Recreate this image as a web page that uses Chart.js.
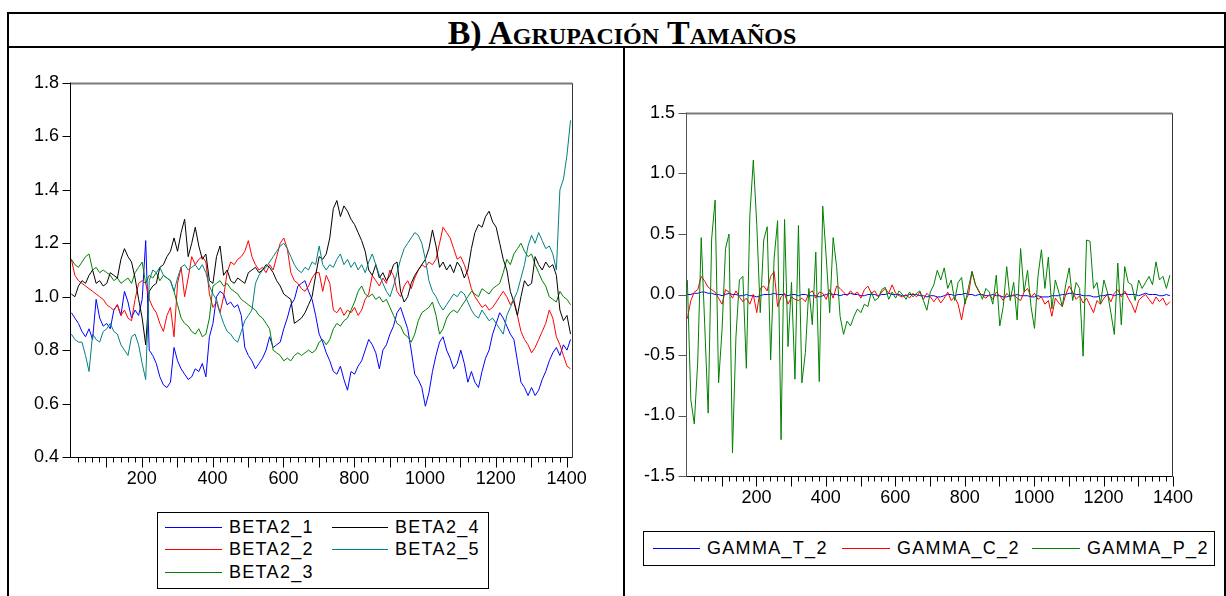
<!DOCTYPE html>
<html lang="es">
<head>
<meta charset="UTF-8">
<title>B) Agrupación Tamaños</title>
<script src="https://cdn.jsdelivr.net/npm/chart.js"></script>
<style>
    body { margin: 0; background: #fff; }
    #page { position: relative; width: 1226px; height: 596px; overflow: hidden; background: #fff; }
    .rule { position: absolute; background: #000; }
    #titulo {
        position: absolute; left: 380px; top: 14px; width: 484px; height: 32px;
        text-align: center; font-family: 'Liberation Serif', 'Times New Roman', serif;
        font-weight: bold; font-variant: small-caps; font-size: 34px; line-height: 37px; color: #000;
    }
    canvas, svg { position: absolute; }
    .leyenda { position: absolute; border: 1px solid #000; box-sizing: border-box; }
    .item { position: absolute; font-family: 'Liberation Sans', Arial, sans-serif; font-size: 18px; letter-spacing: 1.3px; color: #000; white-space: nowrap; line-height: 20px; }
</style>
</head>
<body>
<div id="page">
    <div class="rule" style="left:7px; top:12px; width:1219px; height:2px;"></div>
    <div class="rule" style="left:7px; top:12px; width:2px; height:584px;"></div>
    <div class="rule" style="left:1224px; top:12px; width:2px; height:584px;"></div>
    <div class="rule" style="left:7px; top:46px; width:1219px; height:2px;"></div>
    <div class="rule" style="left:623px; top:46px; width:2px; height:550px;"></div>
    <div id="titulo">B) Agrupación Tamaños</div>

    <canvas id="izq" width="600" height="450" style="left:10px; top:60px;"></canvas>
    <canvas id="der" width="598" height="460" style="left:626px; top:60px;"></canvas>

    <div class="leyenda" id="leyIzq" style="left:157px; top:512px; width:332px; height:77px;"></div>
    <div class="leyenda" id="leyDer" style="left:643px; top:531px; width:572px; height:35px;"></div>
</div>
<script>
    // ---- panel izquierdo: BETA2_x, una lectura cada 10 observaciones (obs 1, 11, ..., 1411)
    var betaStep = 10;
    var beta2_1 = [
        0.94, 0.92, 0.90, 0.87, 0.85, 0.88, 0.84, 0.99, 0.92, 0.89,
        0.90, 0.88, 0.95, 0.97, 0.93, 1.02, 0.98, 0.92, 0.95, 0.93,
        0.99, 1.21, 0.80, 0.78, 0.75, 0.70, 0.67, 0.66, 0.68, 0.81,
        0.76, 0.73, 0.71, 0.69, 0.70, 0.73, 0.72, 0.75, 0.70, 0.85,
        0.90, 1.00, 1.02, 1.01, 0.97, 0.98, 0.96, 0.97, 0.93, 0.81,
        0.78, 0.76, 0.73, 0.75, 0.77, 0.80, 0.85, 0.81, 0.82, 0.83,
        0.88, 0.92, 0.97, 0.99, 1.04, 1.05, 1.06, 1.02, 0.99, 0.93,
        0.86, 0.83, 0.79, 0.76, 0.72, 0.71, 0.74, 0.69, 0.65, 0.72,
        0.71, 0.74, 0.76, 0.80, 0.84, 0.82, 0.79, 0.73, 0.80, 0.82,
        0.86, 0.89, 0.94, 0.96, 0.92, 0.88, 0.80, 0.71, 0.69, 0.66,
        0.59, 0.64, 0.72, 0.78, 0.83, 0.85, 0.80, 0.77, 0.73, 0.75,
        0.80, 0.75, 0.68, 0.72, 0.68, 0.66, 0.72, 0.77, 0.80, 0.86,
        0.90, 0.94, 0.92, 0.89, 0.86, 0.84, 0.76, 0.68, 0.66, 0.63,
        0.66, 0.63, 0.65, 0.69, 0.72, 0.76, 0.79, 0.81, 0.78, 0.82,
        0.80, 0.84
    ];
    var beta2_2 = [
        1.14, 1.08, 1.06, 1.05, 1.04, 1.03, 1.02, 1.01, 1.00, 0.99,
        0.97, 0.96, 0.95, 0.97, 0.93, 0.95, 0.92, 0.91, 0.99, 1.05,
        1.06, 1.05, 0.99, 0.96, 0.94, 0.90, 0.87, 0.93, 0.96, 0.85,
        1.05, 1.11, 1.00, 1.07, 1.15, 1.12, 1.14, 1.15, 1.13, 1.01,
        0.96, 0.98, 0.94, 1.00, 1.09, 1.13, 1.12, 1.14, 1.15, 1.17,
        1.21, 1.15, 1.12, 1.10, 1.11, 1.09, 1.12, 1.10, 1.15, 1.20,
        1.22, 1.18, 1.09, 1.06, 1.05, 1.03, 1.02, 1.04, 1.07, 1.09,
        1.09, 1.02, 1.08, 1.05, 0.95, 0.94, 0.96, 0.93, 0.95, 0.94,
        0.96, 0.93, 0.95, 0.99, 1.01, 1.08, 1.06, 1.04, 1.07, 1.05,
        1.10, 1.08, 1.02, 1.00, 1.04, 1.06, 1.03, 1.07, 1.10, 1.12,
        1.11, 1.13, 1.12, 1.14, 1.20, 1.26, 1.24, 1.22, 1.18, 1.14,
        1.15, 1.12, 1.08, 1.03, 1.00, 0.98, 0.96, 0.97, 0.95, 0.96,
        0.98, 1.00, 1.02, 1.00, 0.97, 0.99, 0.93, 0.87, 0.84, 0.82,
        0.79, 0.81, 0.84, 0.87, 0.90, 0.95, 0.92, 0.85, 0.82, 0.78,
        0.74, 0.73
    ];
    var beta2_3 = [
        1.14, 1.12, 1.11, 1.13, 1.15, 1.16, 1.10, 1.11, 1.09, 1.10,
        1.09, 1.08, 1.06, 1.07, 1.05, 1.06, 1.07, 1.05, 1.09, 1.11,
        1.13, 1.05, 1.08, 1.07, 1.09, 1.06, 1.08, 1.07, 1.06, 1.02,
        0.97, 0.92, 0.90, 0.89, 0.87, 0.86, 0.88, 0.85, 0.86, 0.92,
        1.04, 1.05, 1.06, 1.04, 1.05, 1.03, 1.02, 1.01, 0.99, 0.98,
        0.97, 0.96, 0.95, 0.93, 0.92, 0.90, 0.88, 0.80, 0.79, 0.78,
        0.76, 0.77, 0.76, 0.78, 0.79, 0.78, 0.79, 0.80, 0.79, 0.80,
        0.83, 0.84, 0.82, 0.84, 0.88, 0.90, 0.89, 0.91, 0.92, 0.95,
        0.98, 1.02, 1.04, 1.01, 1.00, 1.01, 0.99, 1.00, 0.98, 0.99,
        0.96, 0.93, 0.90, 0.89, 0.86, 0.85, 0.83, 0.86, 0.91, 0.94,
        0.95, 0.96, 0.98, 0.93, 0.86, 0.88, 0.92, 0.94, 0.95, 0.94,
        0.96, 0.98, 1.00, 1.02, 1.01, 1.00, 1.03, 1.02, 1.01, 1.03,
        1.04, 1.05, 1.09, 1.14, 1.12, 1.16, 1.18, 1.20, 1.17, 1.15,
        1.16, 1.12, 1.09, 1.06, 1.04, 1.00, 0.99, 0.98, 1.02, 1.00,
        0.99, 0.97
    ];
    var beta2_4 = [
        1.01, 1.00, 1.04, 1.06, 1.05, 1.08, 1.10, 1.05, 1.06, 1.04,
        1.05, 1.09, 1.08, 1.07, 1.14, 1.18, 1.15, 1.13, 1.07, 0.99,
        0.92, 0.82, 1.02, 1.04, 1.05, 1.11, 1.12, 1.15, 1.17, 1.22,
        1.17, 1.24, 1.29, 1.15, 1.20, 1.26, 1.19, 1.14, 1.16, 1.06,
        1.05, 1.15, 1.19, 1.08, 1.10, 1.06, 1.05, 1.07, 1.06, 1.05,
        1.09, 1.10, 1.11, 1.09, 1.10, 1.12, 1.11, 1.09, 1.06, 1.04,
        1.01, 1.00, 0.99, 0.90, 0.91, 0.92, 0.94, 0.97, 1.00, 1.08,
        1.15, 1.14, 1.16, 1.22, 1.33, 1.36, 1.30, 1.34, 1.32, 1.29,
        1.27, 1.24, 1.21, 1.17, 1.10, 1.08, 1.12, 1.07, 1.09, 1.06,
        1.08, 1.12, 1.13, 1.02, 0.98, 1.00, 1.05, 1.08, 1.10, 1.12,
        1.14, 1.18, 1.25, 1.19, 1.11, 1.13, 1.10, 1.12, 1.09, 1.13,
        1.11, 1.07, 1.10, 1.18, 1.24, 1.27, 1.26, 1.30, 1.32, 1.28,
        1.26, 1.20, 1.14, 1.10, 1.02, 0.98, 0.93, 1.00, 1.06, 1.04,
        1.05, 1.15, 1.12, 1.10, 1.13, 1.11, 1.12, 1.08, 0.95, 0.91,
        0.93, 0.86
    ];
    var beta2_5 = [
        0.86, 0.84, 0.83, 0.83, 0.78, 0.72, 0.86, 0.84, 0.83, 0.87,
        0.88, 0.90, 0.87, 0.86, 0.82, 0.80, 0.78, 0.85, 0.86, 0.82,
        0.75, 0.69, 1.06, 1.10, 1.09, 1.11, 1.08, 1.07, 1.06, 1.02,
        1.07, 1.11, 1.12, 1.10, 1.11, 1.12, 1.10, 1.12, 1.09, 1.04,
        1.01, 0.99, 0.94, 0.90, 0.87, 0.86, 0.84, 0.83, 0.87, 0.91,
        0.93, 0.95, 1.05, 1.08, 1.10, 1.11, 1.13, 1.15, 1.17, 1.19,
        1.20, 1.18, 1.15, 1.12, 1.10, 1.09, 1.11, 1.10, 1.13, 1.12,
        1.19, 1.12, 1.10, 1.12, 1.11, 1.14, 1.16, 1.12, 1.14, 1.11,
        1.13, 1.10, 1.12, 1.09, 1.13, 1.16, 1.12, 1.08, 1.05, 1.02,
        1.00, 1.04, 1.09, 1.14, 1.18, 1.20, 1.22, 1.24, 1.23, 1.20,
        1.14, 1.06, 1.02, 1.00, 0.97, 0.95, 0.97, 0.99, 1.01, 1.00,
        1.02, 1.01, 0.98, 0.95, 0.93, 0.92, 0.95, 0.93, 0.91, 0.92,
        0.90, 0.88, 0.86, 0.93, 0.96, 0.99, 1.02, 1.07, 1.12, 1.19,
        1.23, 1.20, 1.24, 1.21, 1.18, 1.19, 1.16, 1.10, 1.40, 1.44,
        1.53, 1.66
    ];
    var betaNames = ['BETA2_1', 'BETA2_2', 'BETA2_3', 'BETA2_4', 'BETA2_5'];
    var betaColors = ['#0000ff', '#ff0000', '#008000', '#000000', '#008080'];
    var betaTicksY = [0.4, 0.6, 0.8, 1.0, 1.2, 1.4, 1.6, 1.8];
    var betaTicksX = [200, 400, 600, 800, 1000, 1200, 1400];

    // ---- panel derecho: GAMMA_x_2, una lectura cada 10 observaciones (obs 1, 11, ..., 1391)
    var gammaStep = 10;
    var gamma_t_2 = [
         0.00,  0.00,  0.01,  0.01,  0.02,  0.02,  0.01,  0.01,  0.00,  0.00,
        -0.01,  0.00,  0.01,  0.00,  0.00, -0.01, -0.01,  0.00, -0.01, -0.01,
        -0.02, -0.01,  0.00,  0.00,  0.00,  0.01,  0.00,  0.00,  0.00, -0.01,
         0.00,  0.00, -0.01,  0.00,  0.00, -0.01, -0.01, -0.01, -0.02, -0.01,
         0.00,  0.01,  0.00,  0.00, -0.01,  0.00,  0.00,  0.01,  0.00,  0.00,
        -0.01, -0.01,  0.00,  0.00,  0.00, -0.01,  0.00,  0.00,  0.01,  0.00,
         0.00,  0.00, -0.01, -0.01,  0.00,  0.00,  0.00, -0.01, -0.01, -0.02,
        -0.01, -0.01, -0.02, -0.02, -0.01,  0.00,  0.00, -0.01,  0.00,  0.00,
         0.01,  0.00,  0.00, -0.01,  0.00,  0.00, -0.01, -0.01,  0.00, -0.01,
        -0.01, -0.02, -0.02, -0.01, -0.01,  0.00, -0.01, -0.01, -0.01, -0.02,
        -0.02, -0.01, -0.02, -0.02, -0.02, -0.01, -0.01, -0.01,  0.00,  0.00,
         0.01,  0.01,  0.00,  0.00, -0.01, -0.01, -0.01, -0.02, -0.02, -0.01,
        -0.01,  0.00,  0.00, -0.01,  0.00,  0.00,  0.01,  0.00,  0.00,  0.00,
        -0.01,  0.00,  0.01,  0.00,  0.00,  0.00, -0.01, -0.01,  0.00, -0.01
    ];
    var gamma_c_2 = [
        -0.20, -0.05,  0.02,  0.04,  0.15,  0.11,  0.06,  0.04,  0.02, -0.03,
        -0.08,  0.04,  0.02, -0.03,  0.03, -0.02, -0.06, -0.03, -0.08,  0.00,
        -0.15,  0.05,  0.07,  0.03,  0.15,  0.19, -0.10, -0.02,  0.01, -0.08,
        -0.02, -0.04, -0.05, -0.03, -0.06,  0.01,  0.03, -0.03,  0.02,  0.01,
        -0.04,  0.04, -0.03,  0.07,  0.05,  0.02, -0.01,  0.03,  0.00,  0.02,
        -0.03,  0.04,  0.07,  0.01,  0.03, -0.02,  0.02,  0.05,  0.01,  0.08,
         0.01, -0.01, -0.02,  0.00, -0.03,  0.01, -0.02,  0.02, -0.04,  0.01,
        -0.02, -0.06, -0.02, -0.07, -0.03,  0.02, -0.05, -0.02, -0.08, -0.21,
        -0.05,  0.00,  0.19,  0.08,  0.02, -0.01, -0.03,  0.00, -0.04,  0.02,
        -0.01, -0.05,  0.01, -0.02,  0.00, -0.03, -0.05,  0.02,  0.05, -0.02,
         0.01, -0.04, -0.02, -0.08, -0.05, -0.18, -0.03, -0.07, -0.10,  0.00,
         0.07,  0.02, -0.04, -0.01, -0.07, -0.03, -0.09, -0.15, -0.05, -0.08,
        -0.03,  0.00, -0.06,  0.01,  0.04, -0.02,  0.03, -0.03, -0.08, -0.15,
        -0.05, -0.02,  0.00, -0.04, -0.08, -0.02, -0.06, -0.03, -0.09, -0.06
    ];
    var gamma_p_2 = [
         0.12, -0.87, -1.07, -0.55,  0.47, -0.25, -0.98,  0.46,  0.78, -0.73,
        -0.29,  0.38,  0.50, -1.31, -0.35,  0.12,  0.15, -0.61,  0.65,  1.11,
         0.58, -0.15,  0.45,  0.56, -0.54,  0.30,  0.61, -1.20,  0.62, -0.43,
         0.10, -0.70,  0.57, -0.73, -0.48,  0.05, -0.25,  0.35, -0.72,  0.73,
         0.31, -0.15,  0.47,  0.23, -0.18, -0.33, -0.22, -0.26, -0.18, -0.12,
        -0.15, -0.08, -0.10,  0.02, -0.05, -0.03,  0.04,  0.06, -0.04,  0.02,
        -0.03,  0.03,  0.00, -0.04,  0.02, -0.02,  0.01,  0.03, -0.05, -0.13,
         0.02,  0.08,  0.20,  0.12,  0.22,  0.05,  0.12, -0.05,  0.10,  0.14,
        -0.08,  0.06,  0.19,  0.08,  0.03, -0.04,  0.05,  0.02, -0.08,  0.16,
        -0.26, -0.10,  0.23, -0.05,  0.10, -0.21,  0.38,  0.02,  0.20, -0.10,
        -0.28,  0.15,  0.37,  0.05,  0.31, -0.12,  0.12,  0.02, -0.10,  0.08,
         0.22, -0.05,  0.10,  0.05, -0.51,  0.45,  0.44,  0.05,  0.10, -0.08,
         0.12,  0.02, -0.15, -0.33,  0.26, -0.25,  0.23,  0.10,  0.08, -0.05,
         0.12,  0.05,  0.10,  0.15,  0.08,  0.27,  0.12,  0.15,  0.05,  0.16
    ];
    var gammaNames = ['GAMMA_T_2', 'GAMMA_C_2', 'GAMMA_P_2'];
    var gammaColors = ['#0000ff', '#ff0000', '#008000'];
    var gammaTicksY = [-1.5, -1.0, -0.5, 0.0, 0.5, 1.0, 1.5];
    var gammaTicksX = [200, 400, 600, 800, 1000, 1200, 1400];

    Chart.defaults.font.family = "'Liberation Sans', Arial, sans-serif";
    Chart.defaults.color = '#000';

    // marco del area de grafico y marcas de los ejes, estilo EViews
    var marcoEViews = {
        id: 'marcoEViews',
        afterDatasetsDraw: function (chart, args, opts) {
            var ctx = chart.ctx, a = chart.chartArea, x = chart.scales.x, y = chart.scales.y;
            var L = Math.round(a.left) - 0.5, R = Math.round(a.right) - 0.5;
            var T = Math.round(a.top) + 0.5, B = Math.round(a.bottom) + 0.5;
            ctx.save();
            function seg(x1, y1, x2, y2, color, w) {
                ctx.strokeStyle = color;
                ctx.lineWidth = w || 1;
                ctx.beginPath(); ctx.moveTo(x1, y1); ctx.lineTo(x2, y2); ctx.stroke();
            }
            seg(L, T, R, T, '#7a7a7a', 2);
            seg(R, T, R, B, '#333', 1);
            seg(L, T - 1, L, B, opts.leftColor || '#000', 1);
            seg(L, B, R, B, '#000', 1);
            // marcas del eje x: cada 20 cortas, cada 100 largas
            for (var v = 20; v <= x.max; v += 20) {
                var px = Math.round(x.getPixelForValue(v)) + 0.5;
                seg(px, B, px, B + (v % 100 === 0 ? 10 : 5), '#000', 1);
            }
            // marcas del eje y
            y.ticks.forEach(function (t) {
                var py = Math.round(y.getPixelForValue(t.value)) + 0.5;
                seg(L - 8, py, L, py, opts.leftColor || '#000', 1);
            });
            ctx.restore();
        }
    };

    function serie(obs0, step, valores) {
        return valores.map(function (v, i) { return { x: obs0 + i * step, y: v }; });
    }

    function opciones(cfg) {
        return {
            responsive: false,
            animation: false,
            devicePixelRatio: 1,
            layout: { padding: cfg.padding },
            plugins: { legend: { display: false }, tooltip: { enabled: false }, marcoEViews: { leftColor: cfg.leftColor } },
            elements: { point: { radius: 0 }, line: { borderWidth: 1, tension: 0 } },
            scales: {
                x: {
                    type: 'linear', min: 0, max: cfg.xMax,
                    afterFit: function (s) { s.height = cfg.xHeight; },
                    afterBuildTicks: function (s) { s.ticks = cfg.xTicks.map(function (v) { return { value: v }; }); },
                    grid: { display: false, drawTicks: false },
                    border: { display: false },
                    ticks: {
                        padding: 11, font: { size: 18 }, maxRotation: 0, autoSkip: false,
                        callback: function (v) { return String(v); }
                    }
                },
                y: {
                    type: 'linear', min: cfg.yTicks[0], max: cfg.yTicks[cfg.yTicks.length - 1],
                    afterFit: function (s) { s.width = cfg.yWidth; },
                    afterBuildTicks: function (s) { s.ticks = cfg.yTicks.map(function (v) { return { value: v }; }); },
                    grid: { display: false, drawTicks: false },
                    border: { display: false },
                    ticks: {
                        padding: 12, font: { size: 18 },
                        callback: function (v) { return Number(v).toFixed(1); }
                    }
                }
            }
        };
    }

    var datosIzq = [beta2_1, beta2_2, beta2_3, beta2_4, beta2_5];
    new Chart(document.getElementById('izq'), {
        type: 'line',
        data: {
            datasets: datosIzq.map(function (d, i) {
                return { label: betaNames[i], data: serie(1, betaStep, d), borderColor: betaColors[i], order: datosIzq.length - i };
            })
        },
        options: opciones({ padding: { top: 23, right: 37, left: 0, bottom: 0 }, xMax: 1418, xHeight: 53, yWidth: 61, yTicks: betaTicksY, xTicks: betaTicksX, leftColor: '#000' }),
        plugins: [marcoEViews]
    });

    var datosDer = [gamma_t_2, gamma_c_2, gamma_p_2];
    new Chart(document.getElementById('der'), {
        type: 'line',
        data: {
            datasets: datosDer.map(function (d, i) {
                return { label: gammaNames[i], data: serie(1, gammaStep, d), borderColor: gammaColors[i], order: datosDer.length - i };
            })
        },
        options: opciones({ padding: { top: 53, right: 51, left: 0, bottom: 0 }, xMax: 1400, xHeight: 44, yWidth: 61, yTicks: gammaTicksY, xTicks: gammaTicksX, leftColor: '#555' }),
        plugins: [marcoEViews]
    });

    // leyendas tipo EViews: recuadro, muestra de linea (svg) y nombre
    var SVGNS = 'http://www.w3.org/2000/svg';
    function leyenda(idCaja, items) {
        var caja = document.getElementById(idCaja);
        var svg = document.createElementNS(SVGNS, 'svg');
        svg.setAttribute('width', caja.clientWidth);
        svg.setAttribute('height', caja.clientHeight);
        svg.style.left = '0px';
        svg.style.top = '0px';
        caja.appendChild(svg);
        items.forEach(function (it) {
            var ln = document.createElementNS(SVGNS, 'line');
            ln.setAttribute('x1', it.left);
            ln.setAttribute('x2', it.left + it.line);
            ln.setAttribute('y1', it.top + 10.5);
            ln.setAttribute('y2', it.top + 10.5);
            ln.setAttribute('stroke', it.color);
            ln.setAttribute('stroke-width', '1');
            svg.appendChild(ln);
            var d = document.createElement('div');
            d.className = 'item';
            d.style.left = (it.left + it.line + 7) + 'px';
            d.style.top = it.top + 'px';
            d.textContent = it.name;
            caja.appendChild(d);
        });
    }
    leyenda('leyIzq', [
        { name: betaNames[0], color: betaColors[0], left: 7, top: 4, line: 57 },
        { name: betaNames[1], color: betaColors[1], left: 7, top: 26, line: 57 },
        { name: betaNames[2], color: betaColors[2], left: 7, top: 49, line: 57 },
        { name: betaNames[3], color: betaColors[3], left: 174, top: 4, line: 56 },
        { name: betaNames[4], color: betaColors[4], left: 174, top: 26, line: 56 }
    ]);
    leyenda('leyDer', [
        { name: gammaNames[0], color: gammaColors[0], left: 9, top: 6, line: 47 },
        { name: gammaNames[1], color: gammaColors[1], left: 198, top: 6, line: 48 },
        { name: gammaNames[2], color: gammaColors[2], left: 388, top: 6, line: 48 }
    ]);
</script>
</body>
</html>
